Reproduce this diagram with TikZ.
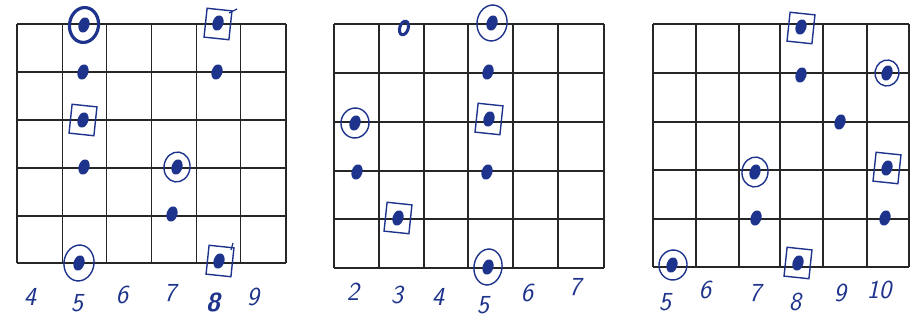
\documentclass[tikz,border=0pt]{standalone}
\usepackage{fontspec}
\definecolor{pen}{RGB}{30,52,140}
\newcommand\fbdot[2]{\fill[pen, rotate around={-18:(#1,#2)}] (#1,#2) ellipse (5.4 and 7.8);}
\newcommand\fbring[4]{\draw[pen, line width=1.4pt, rotate around={-8:(#1,#2)}] (#1,#2) ellipse (#3 and #4);}
\newcommand\fbsq[2]{\draw[pen, line width=1.4pt, rotate around={-6:(#1,#2)}] ($(#1,#2)+(-12.5,-14.5)$) rectangle ($(#1,#2)+(12.5,14.5)$);}
\usetikzlibrary{calc}
\tikzset{
  gridline/.style={draw=black!85, line width=1.1pt},
  fretlabel/.style={text=pen, font=\fontsize{26}{26}\selectfont\sffamily\itshape, inner sep=0pt}
}
\begin{document}
\begin{tikzpicture}[x=1pt, y=-1pt]
\useasboundingbox (0,0) rectangle (914,320);
\fill[white] (0,0) rectangle (914,320);
% grid 1
\foreach \x in {17,62.7,106.7,151.7,196.7,240.7,286} \draw[gridline] (\x,24) -- (\x,263);
\foreach \y in {24,72,120,168,216,263} \draw[gridline] (17,\y) -- (286,\y);
% grid 2
\foreach \x in {334,379,424,468,513,558,604} \draw[gridline] (\x,24) -- (\x,268);
\foreach \y in {24,73,122,171,219,268} \draw[gridline] (334,\y) -- (604,\y);
% grid 3
\foreach \x in {653,696,739,780,823,867,909} \draw[gridline] (\x,24) -- (\x,267);
\foreach \y in {24,73,122,170,219,267} \draw[gridline] (653,\y) -- (909,\y);

% grid 1 marks
\draw[pen, line width=3.2pt, rotate around={-8:(84,25)}] (84,25) ellipse (14.5 and 17.5);
\fbdot{84}{25}
\fbdot{83}{72}
\fbsq{83}{120}\fbdot{83}{120}
\fbdot{84}{167}
\fbring{79}{263}{15}{18}\fbdot{79}{263}
\fbring{177}{167}{13}{15}\fbdot{177}{167}
\fbdot{172}{214}
\fbsq{218}{24}\fbdot{218}{23}
\draw[pen, line width=1.2pt] (229,13) -- (237,9);
\fbdot{217}{72}
\fbsq{220}{261}\fbdot{219}{261}
\draw[pen, line width=1.2pt] (231,250) -- (233,243);

% grid 2 marks
\draw[pen, line width=3pt, rotate around={-18:(404,28)}] (404,28) ellipse (4.2 and 7);
\fbring{355}{123}{14}{15}\fbdot{355}{123}
\fbdot{357}{172}
\fbsq{398}{218}\fbdot{398}{218}
\fbring{492}{23}{15}{18}\fbdot{492}{23}
\fbdot{488}{72}
\fbsq{489}{119}\fbdot{489}{119}
\fbdot{487}{172}
\fbring{488}{267}{14}{18}\fbdot{488}{267}

% grid 3 marks
\fbring{673}{265}{14}{15}\fbdot{672}{265}
\fbring{755}{172}{13}{15}\fbdot{755}{172}
\fbdot{756}{218}
\fbsq{801}{28}\fbdot{801}{27}
\fbdot{801}{75}
\fbsq{798}{263}\fbdot{798}{263}
\fbdot{840}{122}
\fbring{887}{73}{12}{13}\fbdot{887}{73}
\fbsq{887}{168}\fbdot{887}{168}
\fbdot{885}{218}

% labels
\node[fretlabel] (a4) at (30,297) {4};
\node[fretlabel] (a5) at (77,303) {5};
\node[fretlabel] (a6) at (122,295) {6};
\node[fretlabel] (a7) at (170,293) {7};
\node[fretlabel] (a8) at (213,302) {\bfseries 8};
\node[fretlabel] (a9) at (253,297) {9};
\node[fretlabel] (b2) at (353,292) {2};
\node[fretlabel] (b3) at (397,295) {3};
\node[fretlabel] (b4) at (438,297) {4};
\node[fretlabel] (b5) at (483,305) {5};
\node[fretlabel] (b6) at (527,293) {6};
\node[fretlabel] (b7) at (575,287) {7};
\node[fretlabel] (c5) at (665,302) {5};
\node[fretlabel] (c6) at (705,290) {6};
\node[fretlabel] (c7) at (755,293) {7};
\node[fretlabel] (c8) at (795,302) {8};
\node[fretlabel] (c9) at (840,293) {9};
\node[fretlabel] (c10) at (879,290) {10};
\end{tikzpicture}
\end{document}
